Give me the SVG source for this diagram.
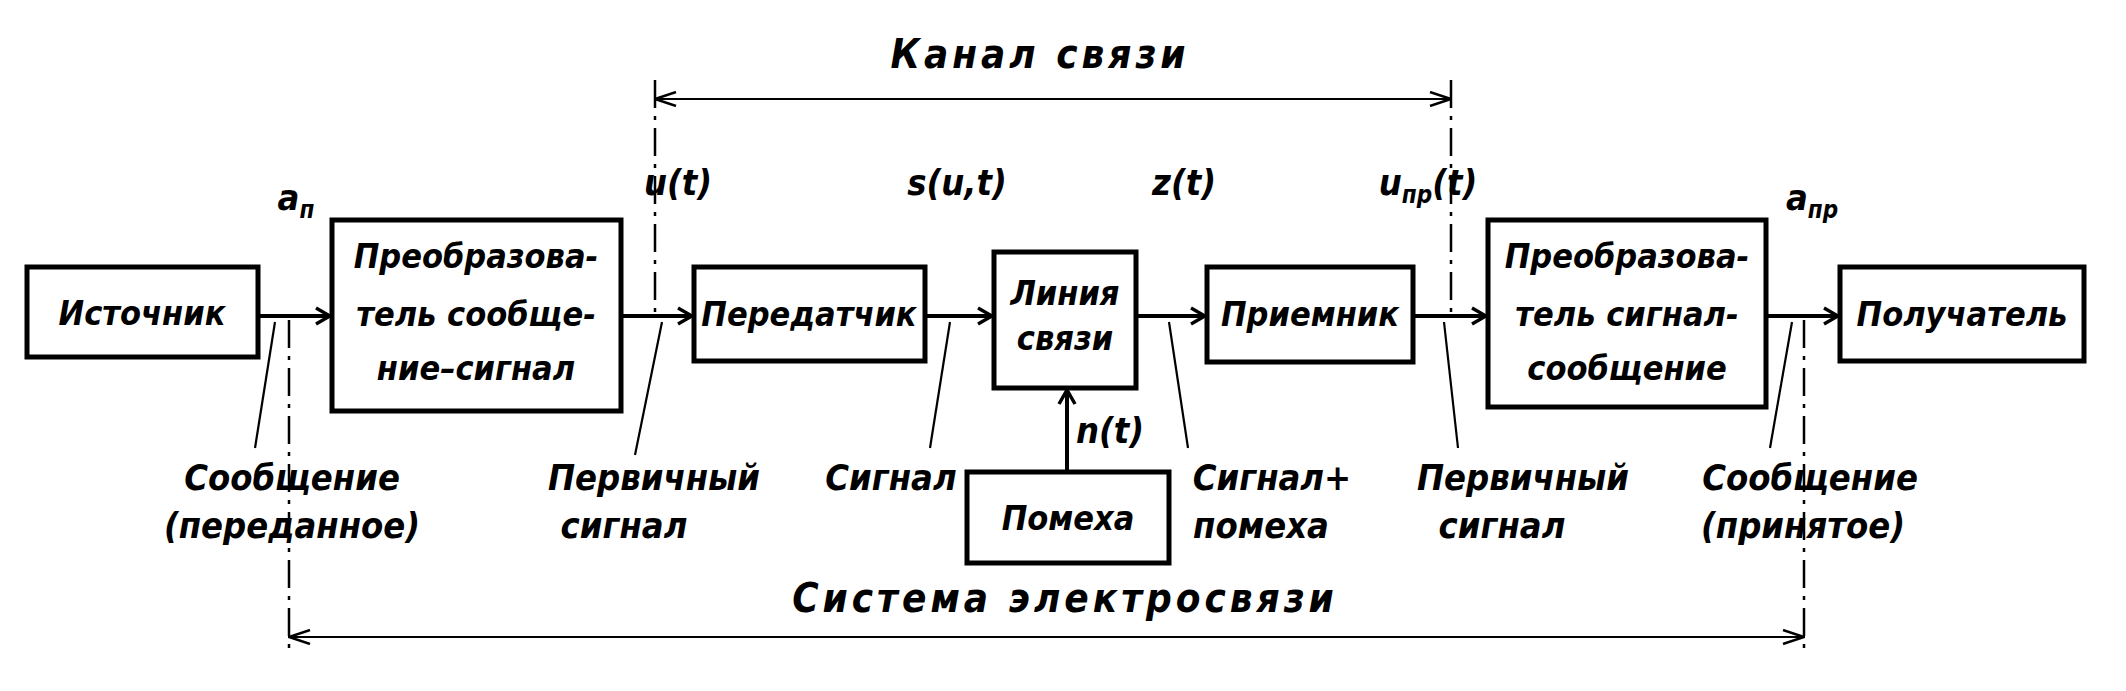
<svg xmlns="http://www.w3.org/2000/svg" width="2126" height="691" viewBox="0 0 2126 691">
<style>
.b{fill:#fff;stroke:#000;stroke-width:5}
.c{stroke:#000;stroke-width:4;fill:none}
.t{stroke:#000;stroke-width:2.2;fill:none}
.d{stroke:#000;stroke-width:2.5;fill:none;stroke-dasharray:28 8 4 8}
text{font-family:"DejaVu Sans Condensed","DejaVu Sans",sans-serif;font-style:italic;font-weight:bold;fill:#000;text-anchor:middle}
.n{font-size:34px}
.l{font-size:36px}
.h{font-size:40px;letter-spacing:4px}
</style>
<defs>
<marker id="a" viewBox="0 0 20 20" refX="18" refY="10" markerWidth="20" markerHeight="20" markerUnits="userSpaceOnUse" orient="auto-start-reverse"><path d="M4 2 L18 10 L4 18" fill="none" stroke="#000" stroke-width="3.5"/></marker>
<marker id="s" viewBox="0 0 24 16" refX="23" refY="8" markerWidth="24" markerHeight="16" markerUnits="userSpaceOnUse" orient="auto-start-reverse"><path d="M2 1 L23 8 L2 15" fill="none" stroke="#000" stroke-width="2.5"/></marker>
</defs>
<g id="connectors">
<line class="c" x1="258" y1="316" x2="330" y2="316" marker-end="url(#a)"/>
<line class="c" x1="621" y1="316" x2="692" y2="316" marker-end="url(#a)"/>
<line class="c" x1="925" y1="316" x2="992" y2="316" marker-end="url(#a)"/>
<line class="c" x1="1136" y1="316" x2="1205" y2="316" marker-end="url(#a)"/>
<line class="c" x1="1413" y1="316" x2="1486" y2="316" marker-end="url(#a)"/>
<line class="c" x1="1766" y1="316" x2="1838" y2="316" marker-end="url(#a)"/>
<line class="c" x1="1067" y1="472" x2="1067" y2="390" marker-end="url(#a)"/>
<line class="t" x1="655" y1="99" x2="1451" y2="99" marker-start="url(#s)" marker-end="url(#s)"/>
<line class="t" x1="289" y1="637" x2="1804" y2="637" marker-start="url(#s)" marker-end="url(#s)"/>
<line class="d" x1="289" y1="320" x2="289" y2="655"/>
<line class="d" x1="655" y1="80" x2="655" y2="318"/>
<line class="d" x1="1451" y1="80" x2="1451" y2="318"/>
<line class="d" x1="1804" y1="320" x2="1804" y2="655"/>
<line class="t" x1="275" y1="322" x2="255" y2="448"/>
<line class="t" x1="662" y1="322" x2="635" y2="455"/>
<line class="t" x1="950" y1="322" x2="930" y2="448"/>
<line class="t" x1="1169" y1="322" x2="1188" y2="448"/>
<line class="t" x1="1444" y1="322" x2="1458" y2="448"/>
<line class="t" x1="1792" y1="322" x2="1770" y2="448"/>
</g>
<g id="n1"><rect class="b" x="27" y="267" width="231" height="90"/><text class="n" x="142" y="325">Источник</text></g>
<g id="n2"><rect class="b" x="332" y="220" width="289" height="191"/><text class="n" x="476" y="268">Преобразова-</text><text class="n" x="476" y="326">тель сообще-</text><text class="n" x="476" y="380">ние–сигнал</text></g>
<g id="n3"><rect class="b" x="694" y="267" width="231" height="94"/><text class="n" x="809" y="326">Передатчик</text></g>
<g id="n4"><rect class="b" x="994" y="252" width="142" height="136"/><text class="n" x="1065" y="305">Линия</text><text class="n" x="1065" y="350">связи</text></g>
<g id="n5"><rect class="b" x="1207" y="267" width="206" height="95"/><text class="n" x="1310" y="326">Приемник</text></g>
<g id="n6"><rect class="b" x="1488" y="220" width="278" height="187"/><text class="n" x="1627" y="268">Преобразова-</text><text class="n" x="1627" y="326">тель сигнал-</text><text class="n" x="1627" y="380">сообщение</text></g>
<g id="n7"><rect class="b" x="1840" y="267" width="244" height="94"/><text class="n" x="1962" y="326">Получатель</text></g>
<g id="n8"><rect class="b" x="967" y="472" width="202" height="91"/><text class="n" x="1068" y="530">Помеха</text></g>
<g id="labels">
<text class="h" x="1040" y="68">Канал связи</text>
<text class="h" x="1065" y="612">Система  электросвязи</text>
<text class="l" x="296" y="210">a<tspan font-size="24" dy="8">п</tspan></text>
<text class="l" x="678" y="195">u(t)</text>
<text class="l" x="957" y="195">s(u,t)</text>
<text class="l" x="1184" y="195">z(t)</text>
<text class="l" x="1428" y="195">u<tspan font-size="24" dy="8">пр</tspan><tspan dy="-8">(t)</tspan></text>
<text class="l" x="1812" y="210">a<tspan font-size="24" dy="8">пр</tspan></text>
<text class="l" x="1110" y="443">n(t)</text>
<text class="l" x="292" y="490">Сообщение</text>
<text class="l" x="292" y="538">(переданное)</text>
<text class="l" x="654" y="490">Первичный</text>
<text class="l" x="624" y="538">сигнал</text>
<text class="l" x="891" y="490">Сигнал</text>
<text class="l" x="1272" y="490">Сигнал+</text>
<text class="l" x="1261" y="538">помеха</text>
<text class="l" x="1523" y="490">Первичный</text>
<text class="l" x="1502" y="538">сигнал</text>
<text class="l" x="1810" y="490">Сообщение</text>
<text class="l" x="1803" y="538">(принятое)</text>
</g>
</svg>
